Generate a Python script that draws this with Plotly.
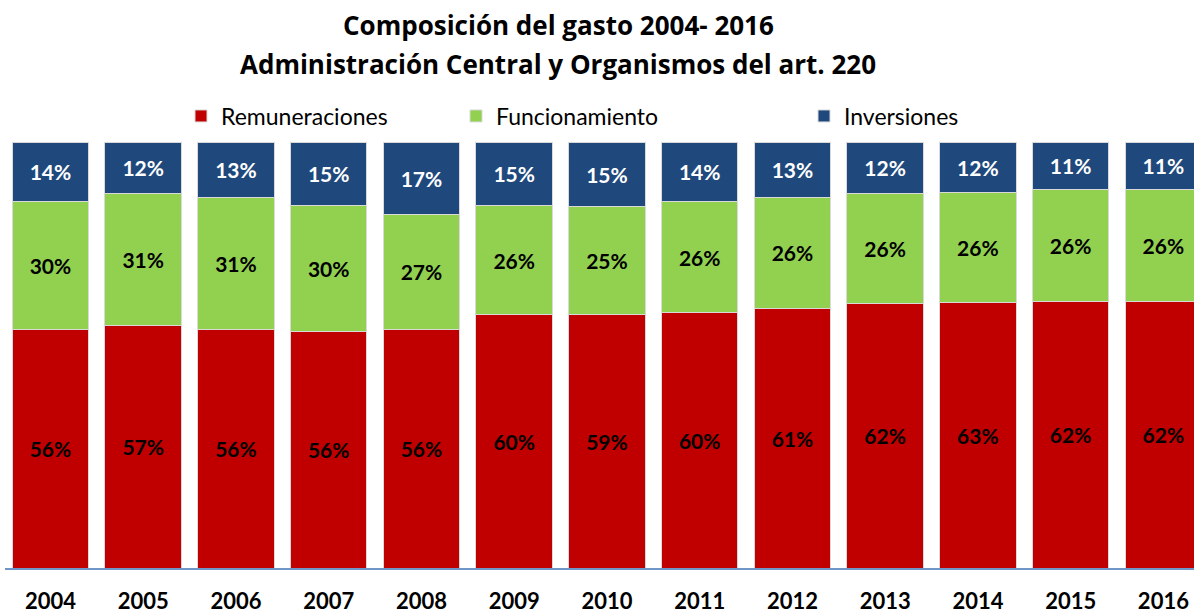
import plotly.graph_objects as go

years = ["2004", "2005", "2006", "2007", "2008", "2009", "2010",
         "2011", "2012", "2013", "2014", "2015", "2016"]
remuneraciones = [56, 57, 56, 56, 56, 60, 59, 60, 61, 62, 63, 62, 62]
funcionamiento = [30, 31, 31, 30, 27, 26, 25, 26, 26, 26, 26, 26, 26]
inversiones = [14, 12, 13, 15, 17, 15, 15, 14, 13, 12, 12, 11, 11]

series = [
    ("Remuneraciones", remuneraciones, "#C00000", "black", "legend"),
    ("Funcionamiento", funcionamiento, "#92D050", "black", "legend2"),
    ("Inversiones", inversiones, "#1F497D", "white", "legend3"),
]

FONT = "Lato"
TFONT = "Open Sans"
fig = go.Figure()
for name, vals, color, tcolor, leg in series:
    fig.add_trace(go.Bar(
        name=name, x=years, y=vals,
        marker=dict(color=color, line=dict(color="#D9D9D9", width=1)),
        text=[f"{v}%" for v in vals], textposition="inside",
        insidetextanchor="middle", textangle=0,
        textfont=dict(family=FONT, size=21, color=tcolor, weight="bold"),
        legend=leg,
    ))

L, R, T, B = 5, 0, 142, 46
W, H = 1194, 614
pw, ph = W - L - R, H - T - B

def px(x):
    return (x - L) / pw

def py(y):
    return (H - B - y) / ph

leg_common = dict(orientation="h", yanchor="middle", y=py(116), xanchor="left",
                  font=dict(family=FONT, size=23, color="#000000"),
                  bgcolor="rgba(0,0,0,0)", borderwidth=0)

fig.update_layout(
    width=W, height=H,
    margin=dict(l=L, r=R, t=T, b=B, pad=0, autoexpand=False),
    barmode="stack", barnorm="percent", bargap=0.175,
    plot_bgcolor="white", paper_bgcolor="white",
    showlegend=True,
    legend=dict(leg_common, x=px(181)),
    legend2=dict(leg_common, x=px(456)),
    legend3=dict(leg_common, x=px(804)),
    xaxis=dict(range=[-0.49, 12.33], showgrid=False, showline=True,
               linecolor="#6E96C8", linewidth=2, ticks="outside",
               ticklen=13, tickcolor="rgba(0,0,0,0)", automargin=False,
               tickfont=dict(family=FONT, size=22, color="black", weight="bold")),
    yaxis=dict(range=[0, 100], visible=False, showgrid=False),
    annotations=[
        dict(text="<b>Composición del gasto 2004- 2016</b>", xref="paper", yref="paper",
             x=px(558), y=py(25), xanchor="center", yanchor="middle", showarrow=False,
             font=dict(family=TFONT, size=26, color="black")),
        dict(text="<b>Administración Central y Organismos del art. 220</b>", xref="paper", yref="paper",
             x=px(558), y=py(64), xanchor="center", yanchor="middle", showarrow=False,
             font=dict(family=TFONT, size=26, color="black")),
    ],
)

fig.write_html("out.html", config={"displayModeBar": False},
               post_script="document.body.style.margin='0';")
